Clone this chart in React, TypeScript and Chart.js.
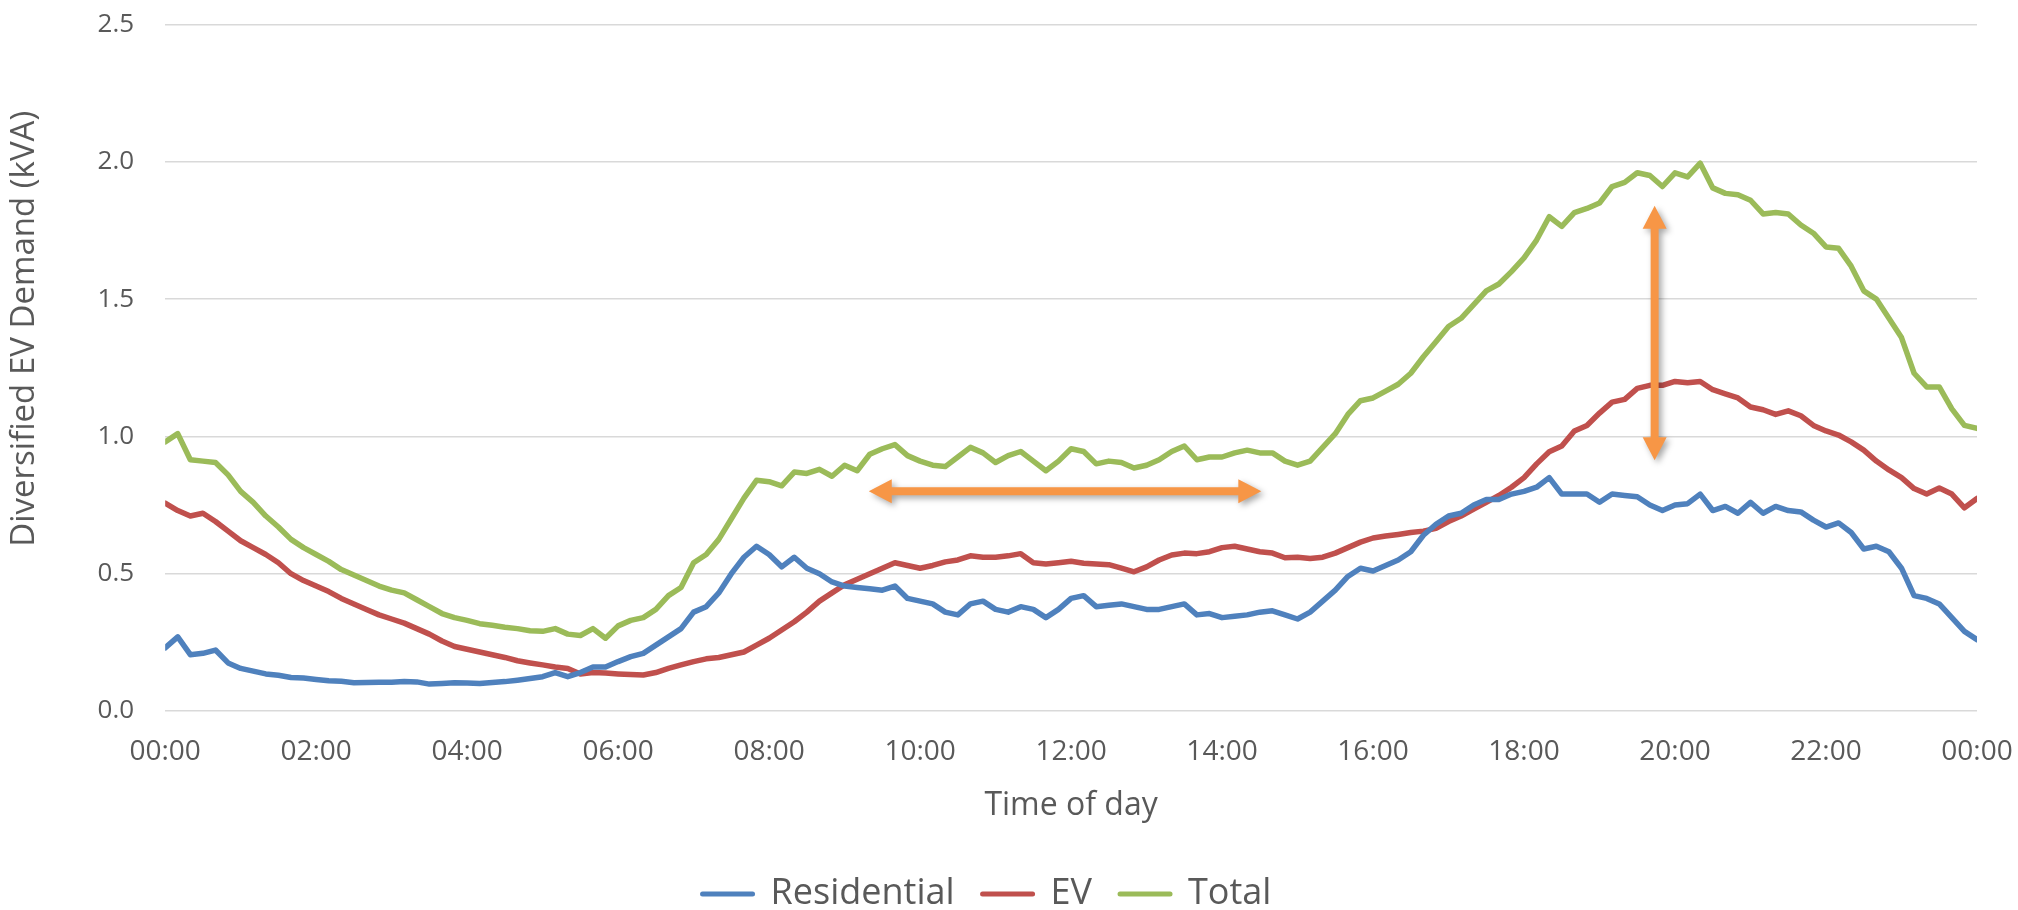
import React, { useEffect, useRef } from "react";
import { Chart, registerables } from "chart.js";

Chart.register(...registerables);

// 10-minute samples, 00:00 .. 24:00 (145 points)
const SAMPLES_PER_HOUR = 6;

const residential = [
  0.23, 0.27, 0.205, 0.21, 0.222, 0.175, 0.155, 0.145, 0.135, 0.13, 0.122, 0.12,
  0.115, 0.11, 0.108, 0.103, 0.104, 0.105, 0.105, 0.107, 0.106, 0.098, 0.1, 0.103,
  0.102, 0.1, 0.104, 0.107, 0.112, 0.118, 0.125, 0.14, 0.125, 0.14, 0.16, 0.16,
  0.18, 0.198, 0.21, 0.24, 0.27, 0.3, 0.36, 0.38, 0.43, 0.5, 0.56, 0.6,
  0.57, 0.525, 0.56, 0.52, 0.5, 0.47, 0.455, 0.45, 0.445, 0.44, 0.455, 0.41,
  0.4, 0.39, 0.36, 0.35, 0.39, 0.4, 0.37, 0.36, 0.38, 0.37, 0.34, 0.37,
  0.41, 0.42, 0.38, 0.385, 0.39, 0.38, 0.37, 0.37, 0.38, 0.39, 0.35, 0.355,
  0.34, 0.345, 0.35, 0.36, 0.365, 0.35, 0.335, 0.36, 0.4, 0.44, 0.49, 0.52,
  0.51, 0.53, 0.55, 0.58, 0.64, 0.68, 0.71, 0.72, 0.75, 0.77, 0.77, 0.79,
  0.8, 0.815, 0.85, 0.79, 0.79, 0.79, 0.76, 0.79, 0.785, 0.78, 0.75, 0.73,
  0.75, 0.755, 0.79, 0.73, 0.745, 0.72, 0.76, 0.72, 0.745, 0.73, 0.725, 0.695,
  0.67, 0.685, 0.65, 0.59, 0.6, 0.58, 0.52, 0.42, 0.41, 0.39, 0.34, 0.29,
  0.26,
];

const ev = [
  0.757, 0.73, 0.71, 0.72, 0.69, 0.655, 0.62, 0.595, 0.57, 0.54, 0.5, 0.475,
  0.455, 0.435, 0.41, 0.39, 0.37, 0.35, 0.335, 0.32, 0.3, 0.28, 0.255, 0.235,
  0.225, 0.215, 0.205, 0.195, 0.183, 0.175, 0.168, 0.16, 0.155, 0.135, 0.14, 0.138,
  0.135, 0.133, 0.131, 0.14, 0.155, 0.168, 0.18, 0.19, 0.195, 0.205, 0.215, 0.24,
  0.265, 0.295, 0.325, 0.36, 0.4, 0.43, 0.46, 0.48, 0.5, 0.52, 0.54, 0.53,
  0.52, 0.53, 0.543, 0.55, 0.565, 0.56, 0.56, 0.565, 0.573, 0.54, 0.535, 0.54,
  0.545, 0.538, 0.535, 0.533, 0.52, 0.507, 0.525, 0.55, 0.568, 0.575, 0.573, 0.58,
  0.595, 0.6, 0.59, 0.58, 0.575, 0.558, 0.56, 0.555, 0.56, 0.575, 0.595, 0.615,
  0.63, 0.637, 0.643, 0.65, 0.655, 0.665, 0.69, 0.71, 0.735, 0.76, 0.785, 0.815,
  0.85, 0.9, 0.944, 0.965, 1.02, 1.04, 1.085, 1.125, 1.135, 1.175, 1.186, 1.186,
  1.2, 1.195, 1.2, 1.17, 1.155, 1.14, 1.107, 1.097, 1.08, 1.093, 1.075, 1.04,
  1.02, 1.005, 0.98, 0.95, 0.91, 0.878, 0.85, 0.81, 0.79, 0.812, 0.79, 0.74,
  0.774,
];

const total = [
  0.98, 1.01, 0.915, 0.91, 0.905, 0.86, 0.8, 0.76, 0.71, 0.67, 0.625, 0.595,
  0.57, 0.545, 0.515, 0.495, 0.475, 0.455, 0.44, 0.43, 0.405, 0.38, 0.355, 0.34,
  0.33, 0.318, 0.312, 0.305, 0.3, 0.292, 0.29, 0.3, 0.28, 0.275, 0.3, 0.265,
  0.31, 0.33, 0.34, 0.37, 0.42, 0.45, 0.54, 0.57, 0.625, 0.7, 0.775, 0.84,
  0.835, 0.82, 0.87, 0.865, 0.88, 0.855, 0.895, 0.875, 0.935, 0.955, 0.97, 0.93,
  0.91, 0.895, 0.89, 0.925, 0.96, 0.94, 0.905, 0.93, 0.945, 0.91, 0.875, 0.91,
  0.955, 0.945, 0.9, 0.91, 0.905, 0.885, 0.895, 0.915, 0.945, 0.965, 0.915, 0.925,
  0.925, 0.94, 0.95, 0.94, 0.94, 0.91, 0.895, 0.91, 0.96, 1.01, 1.08, 1.13,
  1.14, 1.165, 1.19, 1.23, 1.29, 1.345, 1.4, 1.43, 1.48, 1.53, 1.555, 1.6,
  1.65, 1.715, 1.8, 1.765, 1.815, 1.83, 1.85, 1.91, 1.925, 1.96, 1.95, 1.91,
  1.96, 1.945, 1.995, 1.905, 1.885, 1.88, 1.86, 1.81, 1.815, 1.81, 1.77, 1.74,
  1.69, 1.685, 1.62, 1.53, 1.5, 1.43, 1.36, 1.23, 1.18, 1.18, 1.1, 1.04,
  1.029,
];

const hourTickLabels = [
  "00:00", "02:00", "04:00", "06:00", "08:00", "10:00", "12:00",
  "14:00", "16:00", "18:00", "20:00", "22:00", "00:00",
];

const seriesNames = ["Residential", "EV", "Total"];
const seriesColors = ["#4F81BD", "#C0504D", "#9BBB59"];
const yTitle = "Diversified EV Demand (kVA)";
const xTitle = "Time of day";

// annotation arrows: [hour, kVA] endpoints
const flatArrow = [[9.32, 0.8], [14.52, 0.8]];
const peakArrow = [[19.73, 1.84], [19.73, 0.913]];
const arrowColor = "#F79646";

const textColor = "#595959";
const gridColor = "#D9D9D9";
const FONT = "'Open Sans', sans-serif";

function toPoints(values: number[]) {
  return values.map((y, i) => ({ x: i / SAMPLES_PER_HOUR, y }));
}

function drawArrow(ctx: CanvasRenderingContext2D, x1: number, y1: number, x2: number, y2: number) {
  const shaft = 8;
  const headW = 24;
  const headL = 23;
  const len = Math.hypot(x2 - x1, y2 - y1);
  ctx.save();
  ctx.shadowColor = "rgba(0,0,0,0.35)";
  ctx.shadowBlur = 6;
  ctx.shadowOffsetX = 3;
  ctx.shadowOffsetY = 3;
  ctx.translate(x1, y1);
  ctx.rotate(Math.atan2(y2 - y1, x2 - x1));
  ctx.beginPath();
  ctx.moveTo(0, 0);
  ctx.lineTo(headL, -headW / 2);
  ctx.lineTo(headL, -shaft / 2);
  ctx.lineTo(len - headL, -shaft / 2);
  ctx.lineTo(len - headL, -headW / 2);
  ctx.lineTo(len, 0);
  ctx.lineTo(len - headL, headW / 2);
  ctx.lineTo(len - headL, shaft / 2);
  ctx.lineTo(headL, shaft / 2);
  ctx.lineTo(headL, headW / 2);
  ctx.closePath();
  ctx.fillStyle = arrowColor;
  ctx.fill();
  ctx.restore();
}

const decorPlugin = {
  id: "decor",
  afterLayout(chart: any) {
    // nudge the legend block slightly left, as in the original figure
    const lg = chart.legend;
    if (lg) {
      lg.left -= 4;
      lg.right -= 4;
    }
  },
  afterDatasetsDraw(chart: any) {
    const { ctx, scales } = chart;
    const xs = scales.x;
    const ys = scales.y;
    [flatArrow, peakArrow].forEach((a) => {
      drawArrow(
        ctx,
        xs.getPixelForValue(a[0][0]),
        ys.getPixelForValue(a[0][1]),
        xs.getPixelForValue(a[1][0]),
        ys.getPixelForValue(a[1][1])
      );
    });
  },
  afterDraw(chart: any) {
    // visible y-axis title, placed a little above the axis centre like the original
    const { ctx, chartArea, scales } = chart;
    const ys = scales.y;
    ctx.save();
    ctx.translate(ys.left + 19.8, (chartArea.top + chartArea.bottom) / 2 - 39);
    ctx.rotate(-Math.PI / 2);
    ctx.fillStyle = textColor;
    ctx.font = `33px ${FONT}`;
    ctx.textAlign = "center";
    ctx.textBaseline = "middle";
    ctx.fillText(yTitle, 0, 0);
    ctx.restore();
  },
};

export default function App() {
  const canvasRef = useRef<HTMLCanvasElement | null>(null);

  useEffect(() => {
    document.body.style.margin = "0";
    const canvas = canvasRef.current;
    if (!canvas) return;
    Chart.defaults.font.family = FONT;
    Chart.defaults.color = textColor;

    const seriesValues = [residential, ev, total];
    const chart = new Chart(canvas, {
      type: "line",
      data: {
        datasets: seriesValues.map((vals, i) => ({
          label: seriesNames[i],
          data: toPoints(vals),
          borderColor: seriesColors[i],
          backgroundColor: seriesColors[i],
          borderWidth: 5.5,
          borderCapStyle: "round",
          borderJoinStyle: "round",
          pointRadius: 0,
          pointHoverRadius: 0,
          tension: 0,
          fill: false,
        })),
      },
      options: {
        animation: false,
        responsive: true,
        maintainAspectRatio: false,
        events: [],
        layout: { padding: { top: 24.5, right: 41, bottom: -12, left: 5 } },
        scales: {
          x: {
            type: "linear",
            min: 0,
            max: 24,
            grid: { display: false, drawTicks: false },
            border: { display: false },
            afterFit: (s: any) => {
              s.paddingLeft = 0;
              s.paddingRight = 0;
            },
            ticks: {
              stepSize: 2,
              autoSkip: false,
              maxRotation: 0,
              padding: 24,
              color: textColor,
              font: { size: 28 },
              callback: (v: any) => hourTickLabels[Math.round(Number(v) / 2)] ?? "",
            },
            title: {
              display: true,
              text: xTitle,
              color: textColor,
              font: { size: 32 },
              padding: { top: -5.5, bottom: 22.5 },
            },
          },
          y: {
            min: 0,
            max: 2.5,
            grid: { color: gridColor, lineWidth: 1.5, drawTicks: false },
            border: { display: false },
            afterFit: (s: any) => {
              s.paddingTop = 0;
              s.paddingBottom = 0;
            },
            ticks: {
              stepSize: 0.5,
              padding: 31,
              color: textColor,
              font: { size: 26 },
              callback: (v: any) => Number(v).toFixed(1),
            },
            title: {
              // reserves the axis-title space; the visible title is drawn by the plugin
              display: true,
              text: yTitle,
              color: "rgba(0,0,0,0)",
              font: { size: 33 },
              padding: { top: 0, bottom: 22 },
            },
          },
        },
        plugins: {
          tooltip: { enabled: false },
          legend: {
            position: "bottom",
            labels: {
              usePointStyle: true,
              pointStyle: "line",
              pointStyleWidth: 50,
              padding: 28,
              color: textColor,
              font: { size: 36 },
              generateLabels: () =>
                seriesNames.map((name, i) => ({
                  text: name,
                  fillStyle: seriesColors[i],
                  strokeStyle: seriesColors[i],
                  lineWidth: 5,
                  lineCap: "round",
                  pointStyle: "line",
                  fontColor: textColor,
                  hidden: false,
                  datasetIndex: i,
                })),
            },
          },
        },
      },
      plugins: [decorPlugin],
    } as any);

    return () => chart.destroy();
  }, []);

  return (
    <div style={{ position: "absolute", left: 0, top: 0, width: 2018, height: 910, background: "#fff" }}>
      <canvas ref={canvasRef} />
    </div>
  );
}
